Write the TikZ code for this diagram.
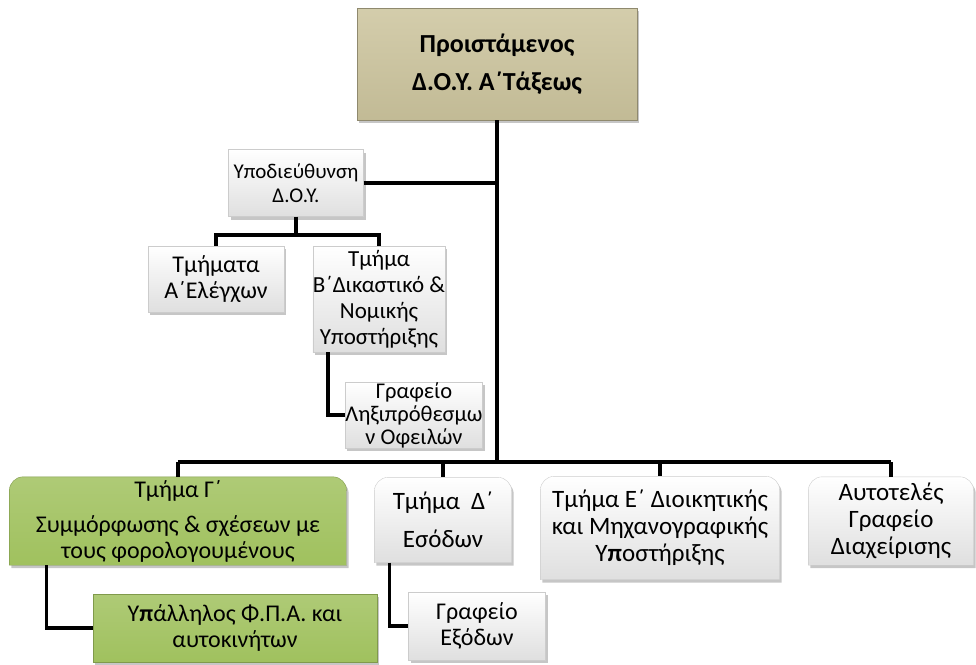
\documentclass[tikz,border=0pt]{standalone}
\usepackage{fontspec}
\setmainfont{Carlito}
\usetikzlibrary{shadows,backgrounds}
\definecolor{tanboss}{RGB}{204,196,157}
\definecolor{greendep}{RGB}{160,193,94}
\colorlet{lightgreen}{greendep!85!white}
\newcommand{\rc}{14pt}
\tikzstyle{link}=[line width=3.6pt]
\tikzstyle{txt}=[align=center, inner sep=0pt, font=\fontsize{24}{26}\selectfont]
\tikzstyle{shadow}=[drop shadow={opacity=.45, shadow xshift=2pt, shadow yshift=-3pt}]
\tikzstyle{greycard}=[draw=gray!40, top color=white, bottom color=gray!25, shadow]
\tikzstyle{greencard}=[draw=greendep!80!black, top color=lightgreen, bottom color=greendep, shadow]
\tikzstyle{card}=[txt, greycard]

% box with only the upper corners rounded, drawn behind the node
\newcommand{\roundtop}[2]{%
\begin{pgfonlayer}{background}
\path[#2] (#1.south west) -- ([yshift=-\rc]#1.north west)
  arc[start angle=180, end angle=90, radius=\rc] -- ([xshift=-\rc]#1.north east)
  arc[start angle=90, end angle=0, radius=\rc] -- (#1.south east) -- cycle;
\end{pgfonlayer}}

\begin{document}
\begin{tikzpicture}[x=1pt, y=-1pt]
\useasboundingbox (0,0) rectangle (976,664);

\node[txt, draw=tanboss!70!black, top color=tanboss!85!white, bottom color=tanboss!95!black, shadow,
  minimum width=280pt, minimum height=112pt, font=\fontsize{26}{30}\selectfont\bfseries]
  (boss) at (497,64) {Προιστάμενος\\[8pt]Δ.Ο.Υ. Α΄Τάξεως};

\node[card, minimum width=135pt, minimum height=67pt, font=\fontsize{21}{24}\selectfont]
  (subdir) at (296,183) {Υποδιεύθυνση\\Δ.Ο.Υ.};
\node[card, minimum width=136pt, minimum height=66pt] (depA) at (216,279) {Τμήματα\\Α΄Ελέγχων};
\node[card, minimum width=132pt, minimum height=106pt, font=\fontsize{23}{26}\selectfont] (depB) at (379,299)
  {Τμήμα\\Β΄Δικαστικό \&\\Νομικής\\Υποστήριξης};
\node[card, minimum width=136pt, minimum height=66pt, font=\fontsize{22.5}{23}\selectfont] (late) at (414,415)
  {Γραφείο\\Ληξιπρόθεσμω\\ν Οφειλών};

\node[txt, minimum width=337pt, minimum height=88pt] (depG) at (178,521)
  {Τμήμα Γ΄\\[9pt]Συμμόρφωσης \& σχέσεων με\\τους φορολογουμένους};
\roundtop{depG}{greencard}
\node[txt, greencard, minimum width=284pt, minimum height=68pt] (vat) at (235,628)
  {Υ{\bfseries π}άλληλος Φ.Π.Α. και\\αυτοκινήτων};

\node[txt, minimum width=137pt, minimum height=85pt, font=\fontsize{25}{27}\selectfont] (depD) at (443,520)
  {Τμήμα~~Δ΄\\[11pt]Εσόδων};
\roundtop{depD}{greycard}
\node[card, minimum width=137pt, minimum height=68pt] (exp) at (477,626) {Γραφείο\\Εξόδων};

\node[txt, minimum width=239pt, minimum height=103pt, font=\fontsize{25}{27}\selectfont] (depE) at (660,528)
  {Τμήμα Ε΄ Διοικητικής\\και Μηχανογραφικής\\Υ{\bfseries π}οστήριξης};
\roundtop{depE}{greycard}

\node[txt, minimum width=165pt, minimum height=88pt, font=\fontsize{25}{27}\selectfont] (self) at (891,521)
  {Αυτοτελές\\Γραφείο\\Διαχείρισης};
\roundtop{self}{greycard}

\coordinate (bus) at (0,462);
\coordinate (subbar) at (0,235);

\draw[link] (boss.south) -- (boss.south |- bus);
\draw[link] (subdir.east) -- (subdir.east -| boss.south);
\draw[link] (subdir.south) -- (subdir.south |- subbar);
\draw[link] (depA.north) -- (depA.north |- subbar) -- (depB.north |- subbar) -- (depB.north);
\draw[link] ([xshift=15pt]depB.south west) |- (late.west);

\draw[link] (depG.north |- bus) -- (self.north |- bus);
\foreach \d in {depG,depD,depE,self}
\draw[link] (\d.north |- bus) -- (\d.north);

\draw[link] ([xshift=37pt]depG.south west) |- (vat.west);
\draw[link] ([xshift=15pt]depD.south west) |- (exp.west);

\end{tikzpicture}
\end{document}
